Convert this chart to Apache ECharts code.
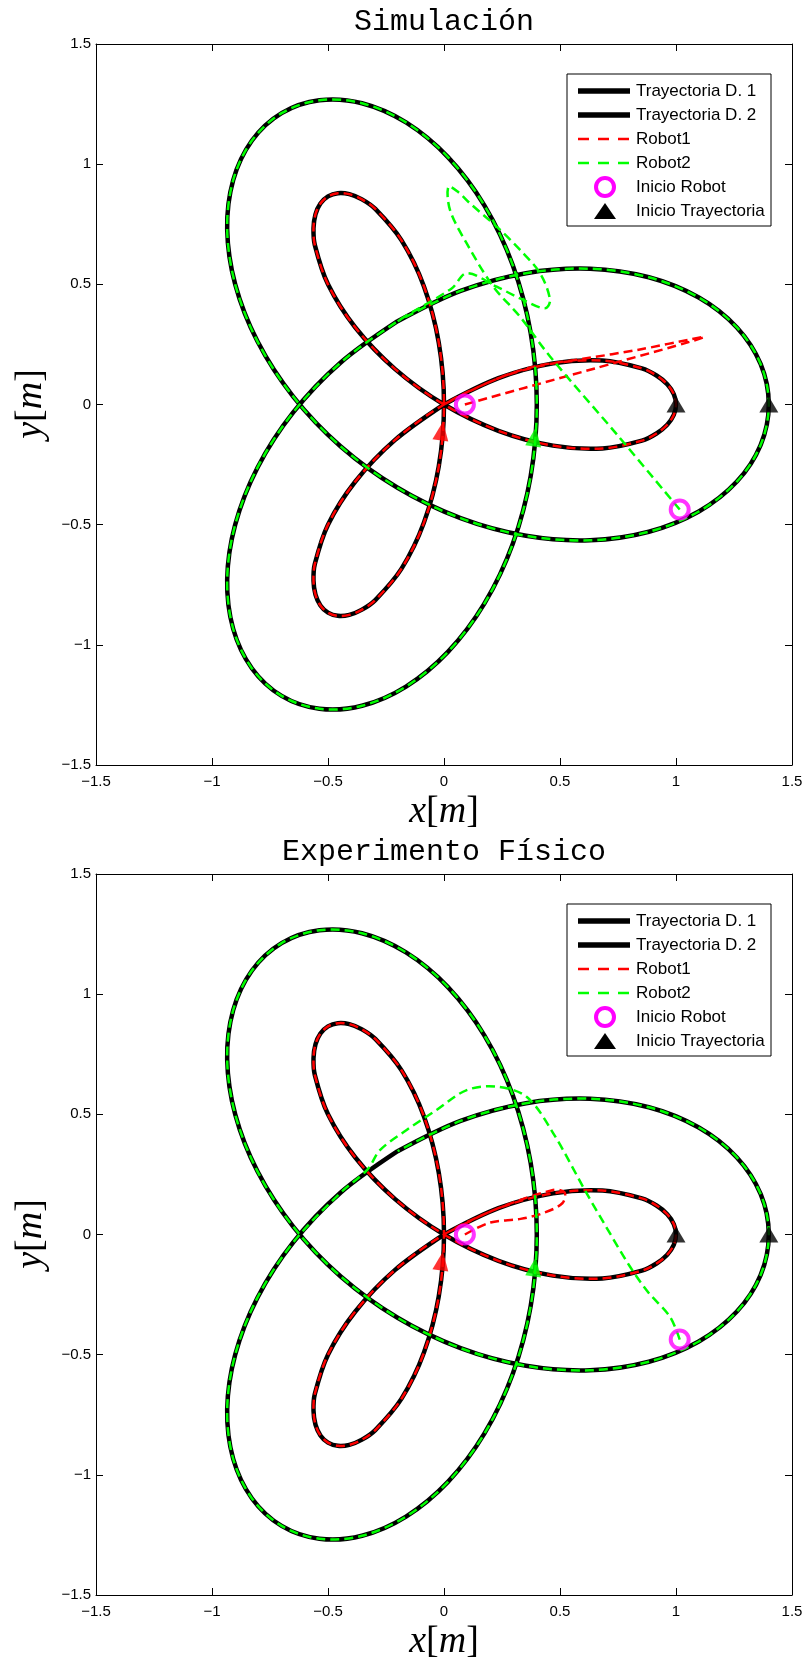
<!DOCTYPE html>
<html><head><meta charset="utf-8">
<script src="https://cdn.jsdelivr.net/npm/echarts@6/dist/echarts.min.js"></script>
<style>html,body{margin:0;padding:0;background:#fff}#c{width:807px;height:1663px}</style>
</head><body><div id="c"></div>
<script>
// ---------- data ----------
const axisTicks = [-1.5, -1, -0.5, 0, 0.5, 1, 1.5];
const tickLabels = ['\u22121.5', '\u22121', '\u22120.5', '0', '0.5', '1', '1.5'];
const titles = ['Simulación', 'Experimento Físico'];
const legendNames = ['Trayectoria D. 1', 'Trayectoria D. 2', 'Robot1', 'Robot2', 'Inicio Robot', 'Inicio Trayectoria'];

// desired trajectory 1 (three-petal curve)
const traj1 = [
  [0,0],[-0.2120,-0.1484],[-0.3830,-0.3214],[-0.5,-0.5],[-0.5567,-0.6634],[-0.5625,-0.7330],
  [-0.5540,-0.7912],[-0.5327,-0.8361],[-0.5,-0.8660],[-0.4577,-0.8794],[-0.4082,-0.8754],
  [-0.3536,-0.8536],[-0.2962,-0.8138],[-0.1830,-0.6830],[-0.0868,-0.4924],[-0.0226,-0.2578],
  [0,0],[-0.0226,0.2578],[-0.0868,0.4924],[-0.1830,0.6830],[-0.2962,0.8138],[-0.3536,0.8536],
  [-0.4082,0.8754],[-0.4577,0.8794],[-0.5,0.8660],[-0.5327,0.8361],[-0.5540,0.7912],
  [-0.5625,0.7330],[-0.5567,0.6634],[-0.5,0.5],[-0.3830,0.3214],[-0.2120,0.1484],
  [0,0],[0.2346,-0.1094],[0.4698,-0.1710],[0.6830,-0.1830],[0.8529,-0.1504],[0.9160,-0.1206],
  [0.9622,-0.0842],[0.9904,-0.0432],[1,0],[0.9904,0.0432],[0.9622,0.0842],[0.9160,0.1206],
  [0.8529,0.1504],[0.6830,0.1830],[0.4698,0.1710],[0.2346,0.1094],[0,0]
];
// desired trajectory 2 (large trefoil)
const traj2 = [
  [-0.2,0.3464],[-0.4451,0.1745],[-0.6500,-0.0330],[-0.8041,-0.2628],[-0.9,-0.5],
  [-0.9346,-0.7287],[-0.9088,-0.9330],[-0.8277,-1.0983],[-0.7,-1.2124],[-0.5373,-1.2660],
  [-0.3536,-1.2536],[-0.1637,-1.1737],[0.0170,-1.0294],[0.1745,-0.8277],[0.2965,-0.5794],
  [0.3736,-0.2982],[0.4,0],[0.3736,0.2982],[0.2965,0.5794],[0.1745,0.8277],[0.0170,1.0294],
  [-0.1637,1.1737],[-0.3536,1.2536],[-0.5373,1.2660],[-0.7,1.2124],[-0.8277,1.0983],
  [-0.9088,0.9330],[-0.9346,0.7287],[-0.9,0.5],[-0.8041,0.2628],[-0.6500,0.0330],
  [-0.4451,-0.1745],[-0.2,-0.3464],[0.0714,-0.4727],[0.3536,-0.5465],[0.6296,-0.5650],
  [0.8830,-0.5294],[1.0983,-0.4451],[1.2624,-0.3206],[1.3651,-0.1677],[1.4,0],
  [1.3651,0.1677],[1.2624,0.3206],[1.0983,0.4451],[0.8830,0.5294],[0.6296,0.5650],
  [0.3536,0.5465],[0.0714,0.4727],[-0.2,0.3464]
];
// robot transients (before joining the desired paths)
const robot1SimStart = [[0.09,0.0],[0.35,0.07],[0.65,0.15],[1.12,0.28],[0.85,0.23],[0.6,0.19],[0.4,0.16],[0.2346,0.1094]];
const robot2SimStart = [[1.016,-0.437],[0.75,-0.13],[0.457,0.2],[0.328,0.365],[0.213,0.49],[0.098,0.67],
  [0.026,0.809],[0.019,0.906],[0.06,0.885],[0.112,0.837],[0.227,0.74],[0.328,0.643],[0.414,0.546],
  [0.457,0.435],[0.435,0.40],[0.342,0.435],[0.227,0.49],[0.098,0.546],[0.033,0.483]];
const robot1ExpStart = [[0.09,0.0],[0.2,0.05],[0.33,0.065],[0.43,0.09],[0.51,0.13],[0.52,0.175],[0.47,0.185],[0.2346,0.1094]];
const robot2ExpStart = [[1.016,-0.437],[0.974,-0.342],[0.88,-0.24],[0.802,-0.134],[0.7,0.03],[0.615,0.171],
  [0.471,0.421],[0.356,0.573],[0.227,0.615],[0.098,0.601],[-0.032,0.518],[-0.161,0.435],[-0.276,0.351],[-0.33,0.27]];
const robotStarts = [[0.09,0.0],[1.016,-0.437]];
const trajStarts = [[1,0],[1.4,0]];
const arrowRobot1 = [[-0.01,-0.11]];
const arrowRobot2 = [[0.39,-0.135]];

// ---------- chart ----------
const fmt = v => { const i = axisTicks.findIndex(t => Math.abs(t - v) < 1e-9); return i >= 0 ? tickLabels[i] : ''; };
const G = [{top:44},{top:874}];
const grid = G.map(g => ({left:96, top:g.top, width:696, height:721, show:false}));
const axBase = {type:'value', min:-1.5, max:1.5, interval:0.5, splitLine:{show:false},
  axisLine:{show:true, onZero:false, lineStyle:{color:'#000', width:1}},
  axisTick:{show:true, inside:true, length:7, lineStyle:{color:'#000', width:1}}};
const lab = {color:'#000', fontSize:15, fontFamily:'Liberation Sans, Arial, sans-serif', formatter:fmt, showMinLabel:true, showMaxLabel:true};
const xAxis = [], yAxis = [];
G.forEach((g,i) => {
  xAxis.push(Object.assign({}, axBase, {gridIndex:i, position:'bottom', axisLabel:Object.assign({}, lab, {margin:9})}));
  xAxis.push(Object.assign({}, axBase, {gridIndex:i, position:'top', axisLabel:{show:false}}));
  yAxis.push(Object.assign({}, axBase, {gridIndex:i, position:'left', axisLabel:Object.assign({}, lab, {margin:5})}));
  yAxis.push(Object.assign({}, axBase, {gridIndex:i, position:'right', axisLabel:{show:false}}));
});
const series = [];
const paths = [
  {r1: robot1SimStart.concat(traj1), r2: robot2SimStart.concat(traj2)},
  {r1: robot1ExpStart.concat(traj1), r2: robot2ExpStart.concat(traj2.slice(1))}
];
const dash = [9,5];
G.forEach((g,i) => {
  const ax = {xAxisIndex:2*i, yAxisIndex:2*i};
  // smooth curve through the data points, placed with the axes' own scales (api.coord)
  const curve = (pts, color, width, lineDash, z) => Object.assign({
    type:'custom', coordinateSystem:'cartesian2d', data:[pts[0]], silent:true, z, clip:false,
    renderItem:(params, api) => ({type:'polyline',
      shape:{points: pts.map(p => api.coord(p)), smooth:0.33},
      style:{stroke:color, lineWidth:width, lineDash:lineDash, fill:null}})
  }, ax);
  series.push(curve(traj1, '#000', 4.5, null, 2));
  series.push(curve(traj2, '#000', 4.5, null, 2));
  series.push(curve(paths[i].r1, '#ff0000', 2.5, dash, 3));
  series.push(curve(paths[i].r2, '#00ff00', 2.5, dash, 3));
  series.push(Object.assign({type:'scatter', data:trajStarts, symbol:'triangle', symbolSize:[19,16], z:5, silent:true,
    itemStyle:{color:'#000'}}, ax));
  series.push(Object.assign({type:'scatter', data:arrowRobot1, symbol:'triangle', symbolSize:[16,19], symbolRotate:-8, z:5, silent:true,
    itemStyle:{color:'#ff0000'}}, ax));
  series.push(Object.assign({type:'scatter', data:arrowRobot2, symbol:'triangle', symbolSize:[16,19], symbolRotate:-8, z:5, silent:true,
    itemStyle:{color:'#00ff00'}}, ax));
  series.push(Object.assign({type:'scatter', data:robotStarts, symbol:'circle', symbolSize:18, z:6, silent:true,
    itemStyle:{color:'rgba(0,0,0,0)', borderColor:'#ff00ff', borderWidth:4}}, ax));
});

// graphics: titles, axis names, legends
const graphic = [];
const sansFont = 'Liberation Sans, Arial, sans-serif';
const richX = {i:{fontFamily:'Liberation Serif, serif', fontStyle:'italic', fontSize:38, fill:'#000'},
               b:{fontFamily:'Liberation Serif, serif', fontSize:38, fill:'#000'}};
G.forEach((g,i) => {
  const dy = g.top - 44;
  graphic.push({type:'text', x:444, y:22+dy, z:100, style:{text:titles[i], font:'30px "Liberation Mono", "Courier New", monospace', fill:'#000', align:'center', verticalAlign:'middle'}});
  graphic.push({type:'text', x:444, y:812+dy, z:100, style:{text:'{i|x}{b|[}{i|m}{b|]}', rich:richX, align:'center', verticalAlign:'middle'}});
  graphic.push({type:'text', x:31, y:404+dy, rotation:Math.PI/2, z:100, style:{text:'{i|y}{b|[}{i|m}{b|]}', rich:richX, align:'center', verticalAlign:'middle'}});
  graphic.push({type:'rect', z:100, shape:{x:567, y:74+dy, width:204, height:152}, style:{fill:'#fff', stroke:'#000', lineWidth:1}});
  const rows = [91,115,139,163,187,211].map(r => r + dy);
  graphic.push({type:'line', z:101, shape:{x1:578, y1:rows[0], x2:630, y2:rows[0]}, style:{stroke:'#000', lineWidth:5.5}});
  graphic.push({type:'line', z:101, shape:{x1:578, y1:rows[1], x2:630, y2:rows[1]}, style:{stroke:'#000', lineWidth:5.5}});
  graphic.push({type:'line', z:101, shape:{x1:578, y1:rows[2], x2:630, y2:rows[2]}, style:{stroke:'#ff0000', lineWidth:2.5, lineDash:[11,9]}});
  graphic.push({type:'line', z:101, shape:{x1:578, y1:rows[3], x2:630, y2:rows[3]}, style:{stroke:'#00ff00', lineWidth:2.5, lineDash:[11,9]}});
  graphic.push({type:'circle', z:101, shape:{cx:605, cy:rows[4], r:9}, style:{fill:'none', stroke:'#ff00ff', lineWidth:4}});
  graphic.push({type:'polygon', z:101, shape:{points:[[594,rows[5]+8],[616,rows[5]+8],[605,rows[5]-8]]}, style:{fill:'#000'}});
  legendNames.forEach((n,k) => graphic.push({type:'text', x:636, y:rows[k], z:101,
    style:{text:n, font:'17px ' + sansFont, fill:'#000', align:'left', verticalAlign:'middle'}}));
});

const chart = echarts.init(document.getElementById('c'), null, {renderer:'canvas'});
chart.setOption({animation:false, backgroundColor:'#fff', grid, xAxis, yAxis, series, graphic});
</script></body></html>
